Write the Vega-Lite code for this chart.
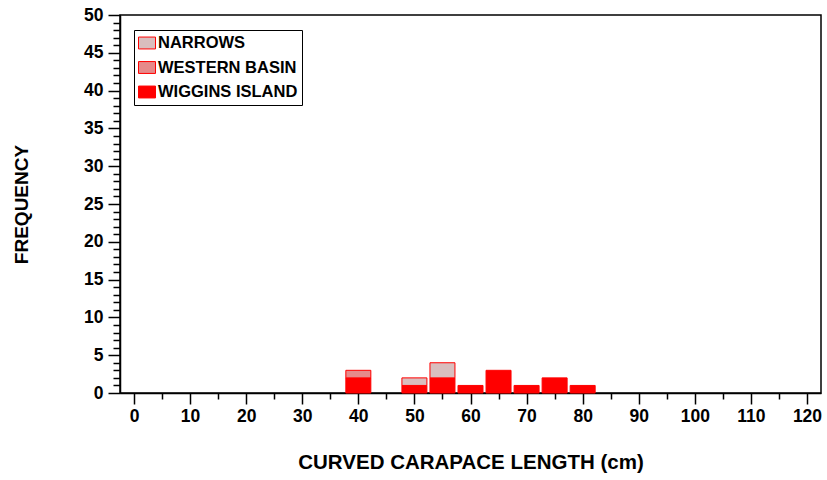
{
  "$schema": "https://vega.github.io/schema/vega-lite/v6.json",
  "autosize": "none",
  "width": 701,
  "height": 378,
  "padding": {"left": 120, "top": 15, "right": 6, "bottom": 87},
  "background": "white",
  "config": {
    "font": "Liberation Sans",
    "view": {"stroke": "black", "strokeWidth": 1.5},
    "axis": {
      "domainColor": "black", "domainWidth": 1.5, "tickColor": "black", "tickWidth": 1.5,
      "labelFont": "Liberation Sans", "labelFontWeight": "bold", "labelFontSize": 17.5, "labelColor": "black",
      "titleFont": "Liberation Sans", "titleFontWeight": "bold", "titleFontSize": 19, "titleColor": "black",
      "grid": false, "labelOverlap": false, "labelFlush": false
    }
  },
  "data": {
    "values": [
      {"cl": 40, "population": "WIGGINS ISLAND", "count": 2},
      {"cl": 40, "population": "WESTERN BASIN", "count": 1},
      {"cl": 50, "population": "WIGGINS ISLAND", "count": 1},
      {"cl": 50, "population": "NARROWS", "count": 1},
      {"cl": 55, "population": "WIGGINS ISLAND", "count": 2},
      {"cl": 55, "population": "NARROWS", "count": 2},
      {"cl": 60, "population": "WIGGINS ISLAND", "count": 1},
      {"cl": 65, "population": "WIGGINS ISLAND", "count": 3},
      {"cl": 70, "population": "WIGGINS ISLAND", "count": 1},
      {"cl": 75, "population": "WIGGINS ISLAND", "count": 2},
      {"cl": 80, "population": "WIGGINS ISLAND", "count": 1}
    ]
  },
  "mark": {"type": "bar", "size": 25, "stroke": "#FF0000", "strokeWidth": 1},
  "encoding": {
    "x": {
      "field": "cl", "type": "quantitative",
      "scale": {"domain": [-2.5, 122.5], "nice": false, "zero": false, "padding": 0},
      "axis": {
        "title": "CURVED CARAPACE LENGTH (cm)",
        "titleFontSize": 20.5,
        "values": [0,5,10,15,20,25,30,35,40,45,50,55,60,65,70,75,80,85,90,95,100,105,110,115,120],
        "labelExpr": "datum.value % 10 == 0 ? datum.label : ''",
        "tickSize": {"condition": {"test": "datum.value % 10 == 0", "value": 11}, "value": 6},
        "labelPadding": 3,
        "titlePadding": 28
      }
    },
    "y": {
      "field": "count", "type": "quantitative", "stack": "zero",
      "scale": {"domain": [0, 50], "nice": false, "padding": 0},
      "axis": {
        "title": "FREQUENCY",
        "values": [0,1,2,3,4,5,6,7,8,9,10,11,12,13,14,15,16,17,18,19,20,21,22,23,24,25,26,27,28,29,30,31,32,33,34,35,36,37,38,39,40,41,42,43,44,45,46,47,48,49,50],
        "labelExpr": "datum.value % 5 == 0 ? datum.label : ''",
        "tickSize": {"condition": {"test": "datum.value % 5 == 0", "value": 12}, "value": 7},
        "labelPadding": 5,
        "titlePadding": 52
      }
    },
    "color": {
      "field": "population", "type": "nominal",
      "scale": {"domain": ["NARROWS", "WESTERN BASIN", "WIGGINS ISLAND"], "range": ["#D9BEBE", "#E68A8A", "#FF0000"]},
      "legend": {
        "title": null, "orient": "none", "legendX": 14, "legendY": 15,
        "strokeColor": "black", "fillColor": "white", "padding": 4,
        "labelFont": "Liberation Sans", "labelFontWeight": "bold", "labelFontSize": 16.5, "labelColor": "black",
        "symbolType": "M-1,-0.7H1V0.7H-1Z", "symbolSize": 289, "symbolStrokeColor": "#FF0000", "symbolStrokeWidth": 1,
        "rowPadding": 6.5, "labelOffset": 2
      }
    },
    "order": {"field": "population", "sort": "descending"}
  }
}
